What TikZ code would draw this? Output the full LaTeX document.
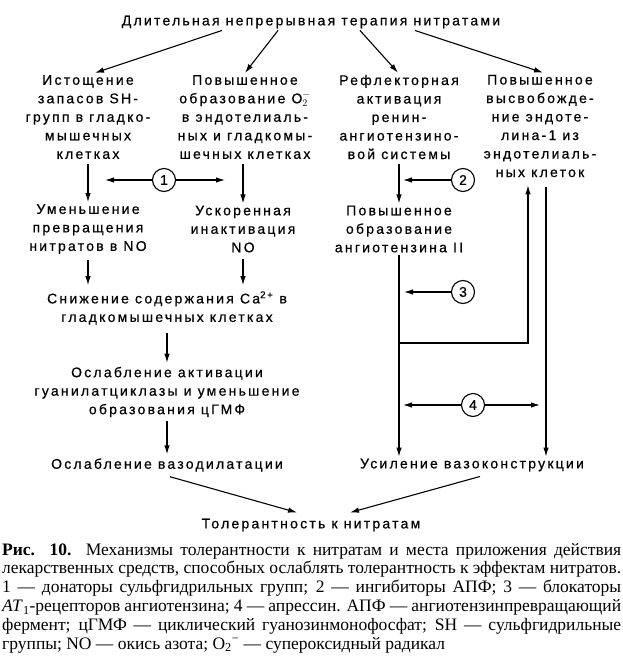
\documentclass[tikz,border=0pt]{standalone}
\usepackage{amsmath}
\usepackage{fontspec}
\setmainfont{Liberation Serif}
\newfontfamily\diagfont[LetterSpace=16,FakeBold=0.6]{Liberation Sans}
\usetikzlibrary{positioning,calc}
\usetikzlibrary{arrows.meta}
\tikzset{
  txt/.style={align=center,inner sep=2pt,font=\diagfont\fontsize{14}{18.5}\selectfont},
  num/.style={circle,draw=black,line width=1.1pt,fill=white,inner sep=0pt,minimum size=23pt,font=\diagfont\fontsize{14}{15}\selectfont},
  arr/.style={draw=black,line width=1.1pt,-{Latex[length=9pt,width=5.5pt]}},
  line/.style={draw=black,line width=1.1pt},
}
\begin{document}
\begin{tikzpicture}[x=1pt,y=-1pt]
\useasboundingbox (0,0) rectangle (623,656);
% scheme
\node[txt] (therapy) at (311,22) {Длительная непрерывная терапия нитратами};
\node[txt] (sh) at (88,117) {Истощение\\запасов SH-\\групп в гладко-\\мышечных\\клетках};
\node[txt] (superox) at (245,117) {Повышенное\\образование $\text{O}_2^-$\\в эндотелиаль-\\ных и гладкомы-\\шечных клетках};
\node[txt] (raas) at (399,117) {Рефлекторная\\активация\\ренин-\\ангиотензино-\\вой системы};
\node[txt] (endo) at (540,126) {Повышенное\\высвобожде-\\ние эндоте-\\лина-1 из\\эндотелиаль-\\ных клеток};
\node[txt] (conv) at (88,229) {Уменьшение\\превращения\\нитратов в NO};
\node[txt] (inact) at (243,229) {Ускоренная\\инактивация\\NO};
\node[txt] (angio) at (399,229) {Повышенное\\образование\\ангиотензина II};
\node[txt] (calc) at (167,308) {Снижение содержания Ca\textsuperscript{2+} в\\гладкомышечных клетках};
\node[txt] (guan) at (167,392) {Ослабление активации\\гуанилатциклазы и уменьшение\\образования цГМФ};
\node[txt] (dil) at (167,465) {Ослабление вазодилатации};
\node[txt] (constr) at (472,465) {Усиление вазоконструкции};
\node[txt] (tol) at (311,525) {Толерантность к нитратам};
% drug sites
\node[num] (n1) at (164,180) {1};
\node[num] (n2) at (463,180) {2};
\node[num] (n3) at (463,292) {3};
\node[num] (n4) at (473,405) {4};
\coordinate (t1a) at (105,180);
\coordinate (t1b) at (225,180);
\coordinate (t2) at (403,180);
\coordinate (t3) at (404,292);
\coordinate (t4a) at (403,405);
\coordinate (t4b) at (540,405);
\coordinate (split) at (399,343);
\coordinate (endo-out) at ([xshift=6pt,yshift=-8pt]endo.south);
% arrows
\draw[arr] ([xshift=-89pt]therapy.south) -- ([xshift=7pt]sh.north);
\draw[arr] ([xshift=-33pt]therapy.south) -- (superox.north);
\draw[arr] ([xshift=49pt]therapy.south) -- ([xshift=-1pt]raas.north);
\draw[arr] ([xshift=104pt]therapy.south) -- ([xshift=3pt]endo.north);
\draw[arr,shorten <=3pt] (sh.south) -- (conv.north);
\draw[arr,shorten <=3pt] ([xshift=-2pt]superox.south) -- (inact.north);
\draw[arr,shorten <=3pt] (raas.south) -- (angio.north);
\draw[arr,shorten <=4pt,shorten >=4pt] (conv.south) -- (conv.south |- calc.north);
\draw[arr,shorten <=4pt,shorten >=4pt] (inact.south) -- (inact.south |- calc.north);
\draw[arr,shorten <=6pt,shorten >=2pt] (calc.south) -- (guan.north);
\draw[arr,shorten <=2pt,shorten >=2pt] (guan.south) -- (dil.north);
\draw[arr] (angio.south) -- (angio.south |- constr.north);
\draw[arr] (split) -| ([xshift=-12pt,yshift=-6pt]endo.south);
\draw[arr] (endo-out) -- (endo-out |- constr.north);
\draw[arr] (n1.west) -- (t1a);
\draw[arr] (n1.east) -- (t1b);
\draw[arr] (n2.west) -- (t2);
\draw[arr] (n3.west) -- (t3);
\draw[arr] (n4.west) -- (t4a);
\draw[arr] (n4.east) -- (t4b);
\draw[arr] ([xshift=3pt,yshift=-3pt]dil.south) -- ([xshift=-14pt,yshift=4pt]tol.north);
\draw[arr] ([xshift=8pt,yshift=-3pt]constr.south) -- ([xshift=39pt,yshift=4pt]tol.north);
% caption
\node[anchor=north west,inner sep=0pt,text width=619pt,align=justify,
  font=\fontsize{17.5}{18.8}\selectfont] (caption) at (2,543)
  {\textbf{Рис. 10.} Механизмы толерантности к нитратам и места приложения действия\linebreak
  лекарственных средств, способных ослаблять толерантность к эффектам нитратов.\linebreak
  1 — донаторы сульфгидрильных групп; 2 — ингибиторы АПФ; 3 — блокаторы\linebreak
  \textit{AT}\textsubscript{1}-рецепторов ангиотензина; 4 — апрессин. АПФ — ангиотензинпревращающий\linebreak
  фермент; цГМФ — циклический гуанозинмонофосфат; SH — сульфгидрильные\linebreak
  группы; NO — окись азота; O\textsubscript{2}\textsuperscript{−} — супероксидный радикал\par};
\end{tikzpicture}
\end{document}
